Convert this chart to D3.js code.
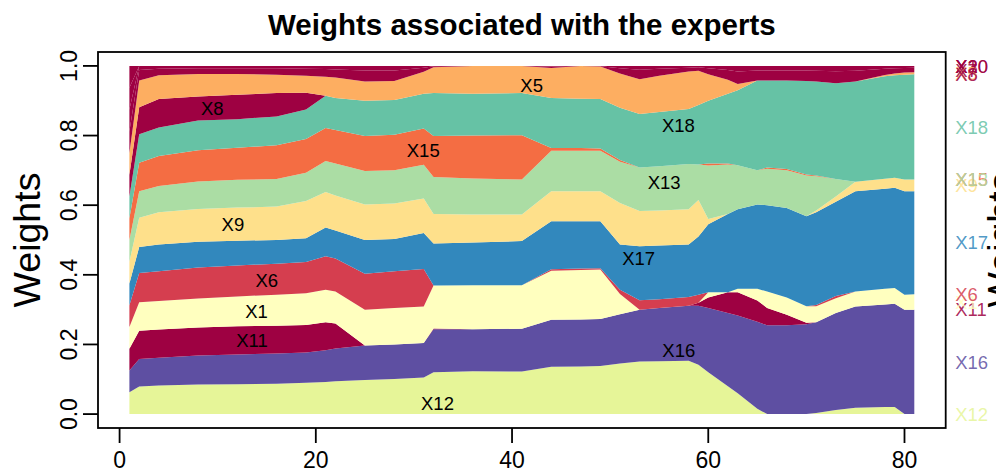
<!DOCTYPE html>
<html>
<head>
<meta charset="utf-8">
<script src="https://cdn.jsdelivr.net/npm/d3@7"></script>
<style>
  html, body { margin: 0; padding: 0; background: #fff; overflow: hidden; }
  svg { display: block; }
  text { font-family: "Liberation Sans", Arial, Helvetica, sans-serif; }
</style>
</head>
<body>
<svg id="chart" width="996" height="474"></svg>
<script>
// Time steps at which the expert weights are recorded
const time = [1,2,4,8,12,16,19,21,22,25,28,31,32,36,41,44,47,49,51,53,55,58,59,60,62,63,65,66,68,70,71,73,75,78,79,80,81];

// Weight of each expert at every time step (stacked bottom to top)
const wX12 = [0.0625,0.079,0.082,0.085,0.086,0.087,0.090,0.092,0.094,0.098,0.101,0.105,0.120,0.123,0.122,0.136,0.137,0.138,0.145,0.151,0.152,0.153,0.142,0.120,0.080,0.060,0.015,0,0,0,0.003,0.012,0.018,0.020,0.020,0,0];
const wX16 = [0.0625,0.079,0.080,0.083,0.085,0.087,0.087,0.091,0.094,0.099,0.099,0.099,0.124,0.121,0.123,0.135,0.135,0.135,0.142,0.149,0.153,0.158,0.169,0.185,0.210,0.223,0.250,0.255,0.255,0.258,0.261,0.278,0.291,0.295,0.297,0.300,0.300];
const wX11 = [0.0625,0.081,0.081,0.081,0.081,0.080,0.079,0.081,0.072,0,0,0,0.002,0,0,0,0,0,0,0,0,0,0.009,0.030,0.060,0.067,0.061,0.050,0.030,0.004,0,0,0,0,0,0,0];
const wX1  = [0.0625,0.082,0.082,0.083,0.086,0.089,0.091,0.093,0.092,0.103,0.105,0.105,0.123,0.126,0.125,0.141,0.142,0.142,0.058,0,0,0,0,0.015,0,0.010,0.034,0.047,0.050,0.048,0.046,0.043,0.043,0.045,0.045,0.043,0.044];
const wX6  = [0.0625,0.084,0.085,0.089,0.089,0.089,0.090,0.096,0.095,0.103,0.105,0.108,0,0,0,0.004,0.004,0.004,0.012,0.027,0.025,0.025,0.023,0,0,0,0,0,0,0,0.003,0.006,0,0,0,0,0];
const wX17 = [0.0625,0.075,0.077,0.074,0.071,0.068,0.068,0.083,0.080,0.097,0.093,0.103,0.121,0.123,0.127,0.138,0.136,0.135,0.130,0.155,0.154,0.151,0.167,0.195,0.225,0.228,0.242,0.248,0.257,0.258,0.267,0.271,0.288,0.287,0.288,0.297,0.296];
const wX9  = [0.0625,0.084,0.093,0.094,0.095,0.096,0.107,0.102,0.101,0.102,0.102,0.099,0.085,0.080,0.076,0.086,0.086,0.086,0.119,0.101,0.101,0.101,0.105,0.015,0,0,0,0,0,0,0.005,0.015,0.027,0.029,0.029,0.034,0.034];
const wX13 = [0.0625,0.076,0.075,0.079,0.080,0.079,0.081,0.089,0.092,0.096,0.095,0.097,0.106,0.104,0.101,0.116,0.116,0.116,0.119,0.125,0.127,0.130,0.102,0.154,0.142,0.127,0.098,0.105,0.108,0.117,0.098,0.050,0,0,0,0,0];
const wX15 = [0.0625,0.082,0.086,0.090,0.092,0.097,0.097,0.095,0.096,0.101,0.102,0.104,0.118,0.123,0.127,0.008,0.008,0.007,0.005,0,0,0,0,0.006,0.003,0,0,0.003,0.004,0.003,0.002,0,0,0,0,0,0];
const wX18 = [0.0625,0.082,0.082,0.085,0.082,0.083,0.085,0.092,0.092,0.101,0.100,0.100,0.123,0.120,0.121,0.144,0.142,0.142,0.150,0.154,0.156,0.158,0.171,0.180,0.200,0.215,0.258,0.250,0.254,0.269,0.270,0.275,0.288,0.294,0.294,0.301,0.302];
const wX8  = [0.0625,0.077,0.082,0.069,0.070,0.067,0.048,0,0,0,0,0,0,0,0,0,0,0,0,0,0,0,0,0,0,0,0,0,0,0,0,0,0,0,0,0,0];
const wX5  = [0.0625,0.077,0.068,0.065,0.060,0.053,0.049,0.055,0.059,0.055,0.055,0.063,0.074,0.080,0.078,0.086,0.094,0.093,0.098,0.100,0.104,0.108,0.098,0.076,0.040,0.018,0,0,0,0,0,0,0,0.004,0.005,0.006,0.006];
const wX7  = [0.0625,0.030,0.019,0.016,0.016,0.018,0.020,0.022,0.023,0.032,0.030,0.012,0.003,0,0,0.004,0,0.001,0.015,0.027,0.020,0.011,0.010,0.017,0.028,0.036,0.029,0.029,0.029,0.030,0.031,0.035,0.031,0.018,0.015,0.013,0.013];
const wX20 = [0.0625,0.012,0.008,0.007,0.007,0.007,0.008,0.009,0.010,0.013,0.013,0.005,0.001,0,0,0.002,0,0.001,0.007,0.011,0.008,0.005,0.004,0.007,0.012,0.016,0.013,0.013,0.013,0.013,0.014,0.015,0.014,0.008,0.007,0.006,0.005];
const wX3  = [0.0625,0,0,0,0,0,0,0,0,0,0,0,0,0,0,0,0,0,0,0,0,0,0,0,0,0,0,0,0,0,0,0,0,0,0,0,0];
const wX10 = [0.0625,0,0,0,0,0,0,0,0,0,0,0,0,0,0,0,0,0,0,0,0,0,0,0,0,0,0,0,0,0,0,0,0,0,0,0,0];

// Expert names in stacking order and their fill colours
const experts = ["X12","X16","X11","X1","X6","X17","X9","X13","X15","X18","X8","X5","X7","X20","X3","X10"];
const expertColors = ["#E6F598","#5E4FA2","#9E0142","#FFFFBF","#D53E4F","#3288BD","#FEE08B","#ABDDA4",
                      "#F46D43","#66C2A5","#9E0142","#FDAE61","#9E0142","#9E0142","#9E0142","#9E0142"];

// Order in which the right-margin names are painted (later ones sit on top)
const endLabelOrder = ["X12","X16","X11","X1","X6","X17","X9","X15","X13","X18","X10","X20","X3","X5","X8","X7"];

// In-band label anchors (time, weight) for the named experts
const bandLabels = ["X8","X5","X18","X15","X13","X9","X17","X6","X1","X11","X16","X12"];
const bandLabelTime = [9.45,42.0,56.95,30.95,55.5,11.55,52.9,15.0,13.95,13.5,57.0,32.4];
const bandLabelWeight = [0.879,0.945,0.829,0.758,0.666,0.544,0.446,0.384,0.295,0.212,0.183,0.031];

// Axis ticks
const xTicks = [0, 20, 40, 60, 80];
const yTicks = [0, 0.2, 0.4, 0.6, 0.8, 1.0];
const yTickLabels = ["0.0", "0.2", "0.4", "0.6", "0.8", "1.0"];

const titleText = "Weights associated with the experts";
const yLabelText = "Weights";

// ---------------------------------------------------------------------------
const seriesByName = { X12: wX12, X16: wX16, X11: wX11, X1: wX1, X6: wX6, X17: wX17, X9: wX9,
  X13: wX13, X15: wX15, X18: wX18, X8: wX8, X5: wX5, X7: wX7, X20: wX20, X3: wX3, X10: wX10 };

const rows = time.map((t, i) => {
  const r = { t };
  experts.forEach(k => { r[k] = seriesByName[k][i]; });
  return r;
});

const box = { left: 98, right: 945.7, top: 52, bottom: 428 };

// 4% padding on both ends of each axis range
const xPad = (time[time.length - 1] - time[0]) * 0.04;
const x = d3.scaleLinear()
  .domain([time[0] - xPad, time[time.length - 1] + xPad])
  .range([box.left, box.right]);
const y = d3.scaleLinear()
  .domain([-0.04, 1.04])
  .range([box.bottom, box.top]);

const color = d3.scaleOrdinal().domain(experts).range(expertColors);

const svg = d3.select("#chart");
svg.append("rect").attr("width", 996).attr("height", 474).attr("fill", "#fff");

const stacked = d3.stack().keys(experts)(rows);

const area = d3.area()
  .x(d => x(d.data.t))
  .y0(d => y(d[0]))
  .y1(d => y(d[1]));

svg.append("g").attr("class", "layers")
  .selectAll("path")
  .data(stacked)
  .join("path")
  .attr("d", area)
  .attr("fill", d => color(d.key));

// Labels inside the bands
svg.append("g").attr("class", "band-labels")
  .selectAll("text")
  .data(bandLabels)
  .join("text")
  .attr("x", (d, i) => x(bandLabelTime[i]))
  .attr("y", (d, i) => y(bandLabelWeight[i]))
  .attr("dy", "0.36em")
  .attr("text-anchor", "middle")
  .attr("font-size", 18.5)
  .attr("fill", "#000")
  .text(d => d);

// Labels in the right margin at the middle of each band's last value
const last = time.length - 1;
const layerByKey = new Map(stacked.map(s => [s.key, s]));
svg.append("g").attr("class", "end-labels")
  .selectAll("text")
  .data(endLabelOrder.map(k => layerByKey.get(k)))
  .join("text")
  .attr("x", box.right + 9.5)
  .attr("y", s => y((s[last][0] + s[last][1]) / 2))
  .attr("dy", "0.36em")
  .attr("font-size", 18.5)
  .attr("fill", s => color(s.key))
  .attr("fill-opacity", 0.85)
  .text(s => s.key);

// Frame
svg.append("rect")
  .attr("x", box.left).attr("y", box.top)
  .attr("width", box.right - box.left).attr("height", box.bottom - box.top)
  .attr("fill", "none").attr("stroke", "#000").attr("stroke-width", 1.8);

// Bottom axis
const xAxis = svg.append("g").attr("class", "x-axis");
xAxis.selectAll("line").data(xTicks).join("line")
  .attr("x1", d => x(d)).attr("x2", d => x(d))
  .attr("y1", box.bottom).attr("y2", box.bottom + 15)
  .attr("stroke", "#000").attr("stroke-width", 1.8);
xAxis.selectAll("text").data(xTicks).join("text")
  .attr("x", d => x(d)).attr("y", 468)
  .attr("text-anchor", "middle").attr("font-size", 23)
  .text(d => d);

// Left axis
const yAxis = svg.append("g").attr("class", "y-axis");
yAxis.selectAll("line").data(yTicks).join("line")
  .attr("x1", box.left - 15).attr("x2", box.left)
  .attr("y1", d => y(d)).attr("y2", d => y(d))
  .attr("stroke", "#000").attr("stroke-width", 1.8);
yAxis.selectAll("text").data(yTicks).join("text")
  .attr("transform", d => `translate(77,${y(d)}) rotate(-90)`)
  .attr("text-anchor", "middle").attr("font-size", 23)
  .text((d, i) => yTickLabels[i]);

// Title and axis titles (the right-hand one runs off the page edge)
svg.append("text")
  .attr("x", (box.left + box.right) / 2).attr("y", 35)
  .attr("text-anchor", "middle").attr("font-size", 29.5).attr("font-weight", "bold")
  .text(titleText);

const midY = (box.top + box.bottom) / 2;
svg.append("text")
  .attr("transform", `translate(40,${midY}) rotate(-90)`)
  .attr("text-anchor", "middle").attr("font-size", 37.5)
  .text(yLabelText);
svg.append("text")
  .attr("transform", `translate(1014,${midY}) rotate(-90)`)
  .attr("text-anchor", "middle").attr("font-size", 37.5)
  .text(yLabelText);
</script>
</body>
</html>
